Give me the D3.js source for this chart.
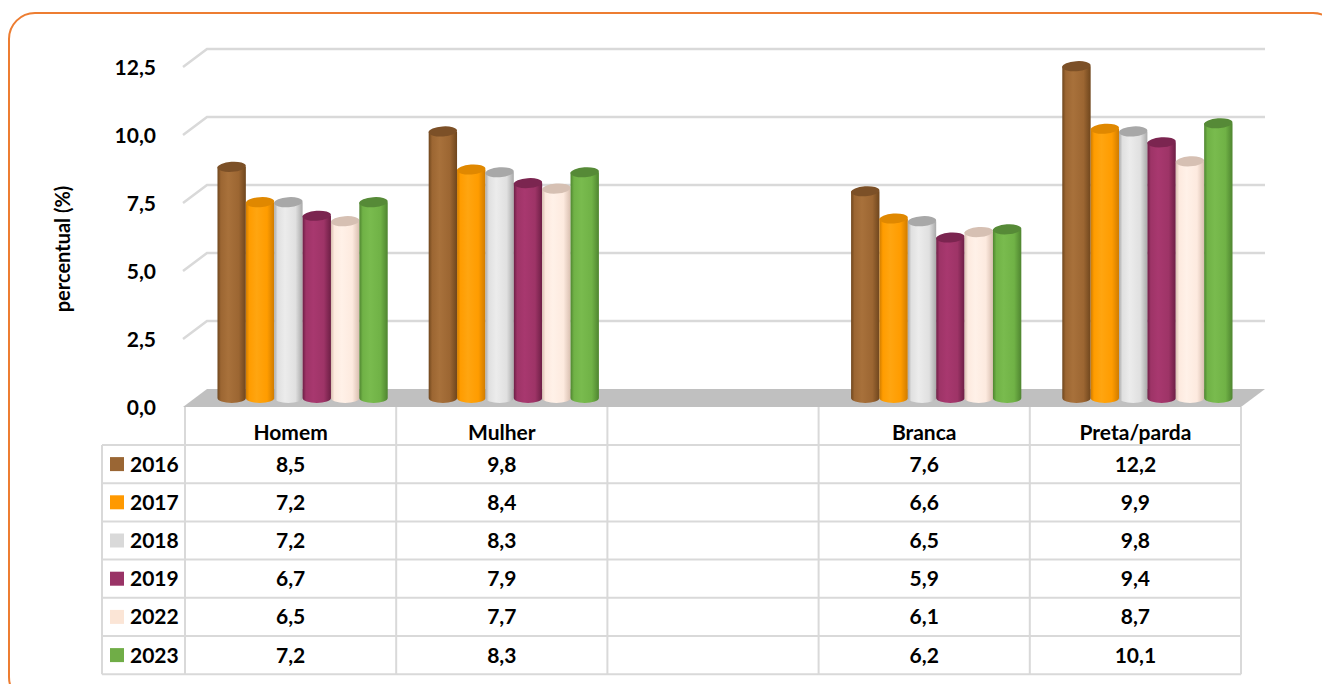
<!DOCTYPE html>
<html>
<head>
<meta charset="utf-8">
<script src="https://cdn.jsdelivr.net/npm/d3@7"></script>
<style>
  html, body { margin: 0; padding: 0; background: #fff; }
  svg { display: block; font-family: Lato, "Open Sans", sans-serif; font-weight: 700; }
</style>
</head>
<body>
<svg id="chart" width="1322" height="684"></svg>
<script>
// Categories (the blank one is an empty spacer column in the table)
const categories = ["Homem", "Mulher", "", "Branca", "Preta/parda"];
const years = ["2016", "2017", "2018", "2019", "2022", "2023"];

// Percent values per year, in category order (null = no bar)
const v2016 = [8.5, 9.8, null, 7.6, 12.2];
const v2017 = [7.2, 8.4, null, 6.6, 9.9];
const v2018 = [7.2, 8.3, null, 6.5, 9.8];
const v2019 = [6.7, 7.9, null, 5.9, 9.4];
const v2022 = [6.5, 7.7, null, 6.1, 8.7];
const v2023 = [7.2, 8.3, null, 6.2, 10.1];
const seriesValues = [v2016, v2017, v2018, v2019, v2022, v2023];

const yTicks = [0, 2.5, 5, 7.5, 10, 12.5];
const yTitle = "percentual (%)";

// Series palette: base colour, light highlight, dark edge, top cap
const palette = [
  { base: "#9c6632", light: "#a8713b", dark: "#6f461d", top: "#7c5027", key: "#9a6634" },
  { base: "#ff9c00", light: "#ffa510", dark: "#d07c00", top: "#e08800", key: "#ff9900" },
  { base: "#e0e0e0", light: "#ececec", dark: "#a9a9a9", top: "#a8a8a8", key: "#d9d9d9" },
  { base: "#9e3467", light: "#a8386f", dark: "#6d1f45", top: "#7b2550", key: "#993366" },
  { base: "#fdeadf", light: "#fff1e8", dark: "#d9bfb0", top: "#d6c0b3", key: "#fbe5d6" },
  { base: "#70b246", light: "#79bb4e", dark: "#4f8530", top: "#568a37", key: "#70ad47" }
];

const fmt = v => d3.format(".1f")(v).replace(".", ",");

const svg = d3.select("#chart");

// Frame
svg.append("rect")
  .attr("x", 9).attr("y", 13).attr("width", 1330).attr("height", 690)
  .attr("rx", 26).attr("ry", 26)
  .attr("fill", "none").attr("stroke", "#ed7d31").attr("stroke-width", 2);

// Plot geometry: front plane of the floor, with a depth offset to the back wall
const frontLeft = 185, frontRight = 1241;
const frontBase = 407;
const depth = { dx: 24, dy: -18 };
const mid = { dx: depth.dx / 2, dy: depth.dy / 2 };

const x0 = d3.scaleBand().domain(d3.range(categories.length)).range([frontLeft, frontRight]);
const bw = x0.bandwidth();
const gap = bw * 0.097;
const x1 = d3.scaleBand().domain(years).range([gap, bw - gap]);

// Value scale on the mid-depth plane (where the cylinders stand)
const y = d3.scaleLinear().domain([0, 12.5]).range([frontBase + mid.dy, frontBase + mid.dy - 340]);

// Back wall gridlines with side diagonals
const grid = svg.append("g");
yTicks.filter(t => t > 0).forEach(t => {
  const yb = y(t) + mid.dy;
  grid.append("path")
    .attr("d", `M${frontLeft - 2},${yb - depth.dy} L${frontLeft - 2 + depth.dx},${yb} L${frontRight + depth.dx},${yb}`)
    .attr("fill", "none").attr("stroke", "#d9d9d9").attr("stroke-width", 2.5);
});

// Floor
svg.append("path")
  .attr("d", `M${frontLeft - 2},${frontBase} L${frontLeft - 2 + depth.dx},${frontBase + depth.dy} L${frontRight + depth.dx},${frontBase + depth.dy} L${frontRight},${frontBase} Z`)
  .attr("fill", "#c0c0c0");

// Y tick labels (front plane)
svg.append("g").selectAll("text").data(yTicks).join("text")
  .attr("x", 156).attr("y", d => y(d) - mid.dy)
  .attr("dy", "0.36em").attr("text-anchor", "end")
  .attr("font-size", 21).attr("fill", "#000")
  .text(fmt);

// Y axis title
svg.append("text")
  .attr("transform", "translate(70,249) rotate(-90)")
  .attr("text-anchor", "middle").attr("font-size", 20).attr("fill", "#000")
  .text(yTitle);

// Cylinder gradients
const defs = svg.append("defs");
palette.forEach((p, i) => {
  const g = defs.append("linearGradient").attr("id", "cyl" + i)
    .attr("x1", 0).attr("x2", 1).attr("y1", 0).attr("y2", 0);
  g.append("stop").attr("offset", "0%").attr("stop-color", p.dark);
  g.append("stop").attr("offset", "12%").attr("stop-color", p.base);
  g.append("stop").attr("offset", "38%").attr("stop-color", p.light);
  g.append("stop").attr("offset", "75%").attr("stop-color", p.base);
  g.append("stop").attr("offset", "100%").attr("stop-color", p.dark);
});

// Bars as cylinders
const bars = svg.append("g");
const ry = 5;
categories.forEach((c, ci) => {
  years.forEach((yr, si) => {
    const v = seriesValues[si][ci];
    if (v == null) return;
    const left = x0(ci) + mid.dx + x1(yr);
    const w = x1.bandwidth();
    const rx = w / 2;
    const yb = y(0), yt = y(v);
    const g = bars.append("g");
    g.append("path")
      .attr("d", `M${left},${yt} L${left},${yb} A${rx},${ry} 0 0 0 ${left + w},${yb} L${left + w},${yt} Z`)
      .attr("fill", `url(#cyl${si})`);
    g.append("ellipse")
      .attr("cx", left + rx).attr("cy", yt).attr("rx", rx).attr("ry", ry)
      .attr("transform", `rotate(-4,${left + rx},${yt})`)
      .attr("fill", palette[si].top);
  });
});

// Data table
const tableLeft = 102;
const headerTop = frontBase, headerBottom = 445;
const rowH = 38.2;
const tableBottom = headerBottom + rowH * years.length;
const table = svg.append("g");
const lineColor = "#d9d9d9";

// horizontal lines
d3.range(years.length + 1).forEach(i => {
  const yy = headerBottom + i * rowH;
  table.append("line").attr("x1", tableLeft).attr("x2", frontRight)
    .attr("y1", yy).attr("y2", yy).attr("stroke", lineColor).attr("stroke-width", 2);
});
// vertical lines
table.append("line").attr("x1", tableLeft).attr("x2", tableLeft)
  .attr("y1", headerBottom).attr("y2", tableBottom).attr("stroke", lineColor).attr("stroke-width", 2);
d3.range(categories.length + 1).forEach(i => {
  const xx = frontLeft + i * bw;
  table.append("line").attr("x1", xx).attr("x2", xx)
    .attr("y1", headerTop).attr("y2", tableBottom).attr("stroke", lineColor).attr("stroke-width", 2);
});

// header labels
table.selectAll("text.cat").data(categories).join("text").attr("class", "cat")
  .attr("x", (d, i) => x0(i) + bw / 2).attr("y", 440)
  .attr("text-anchor", "middle").attr("font-size", 21).attr("fill", "#000")
  .text(d => d);

// rows
years.forEach((yr, si) => {
  const cy = headerBottom + si * rowH + rowH / 2;
  table.append("rect").attr("x", 110).attr("y", cy - 7).attr("width", 14).attr("height", 14)
    .attr("fill", palette[si].key);
  table.append("text").attr("x", 130).attr("y", cy).attr("dy", "0.36em")
    .attr("font-size", 21).attr("fill", "#000").text(yr);
  seriesValues[si].forEach((v, ci) => {
    if (v == null) return;
    table.append("text").attr("x", x0(ci) + bw / 2).attr("y", cy).attr("dy", "0.36em")
      .attr("text-anchor", "middle").attr("font-size", 21).attr("fill", "#000")
      .text(fmt(v));
  });
});
</script>
</body>
</html>
